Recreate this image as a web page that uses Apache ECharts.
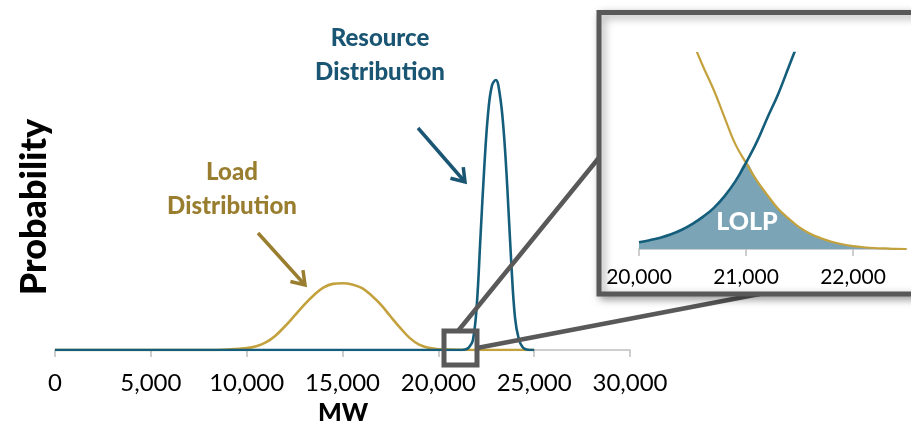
<!DOCTYPE html>
<html><head><meta charset="utf-8">
<script src="https://cdn.jsdelivr.net/npm/echarts@6/dist/echarts.min.js"></script>
<style>html,body{margin:0;padding:0;background:#fff}#c{width:911px;height:423px}</style>
</head><body><div id="c"></div>
<script>
// ---- main chart data ----
const xTicks = [0, 5000, 10000, 15000, 20000, 25000, 30000];
const loadMW  = [0, 8000, 9000, 10000, 10500, 11000, 11500, 12000, 12500, 13000, 13500, 14000, 14500, 15000, 15500, 16000, 16500, 17000, 17500, 18000, 18500, 19000, 19500, 20000, 21000, 22000, 25000];
const loadVal = [0, 0, 0.002, 0.007, 0.014, 0.028, 0.053, 0.088, 0.127, 0.167, 0.203, 0.231, 0.245, 0.247, 0.243, 0.23, 0.203, 0.168, 0.125, 0.083, 0.045, 0.02, 0.008, 0.003, 0.001, 0, 0];
const resourceMW  = [0, 21000, 21400, 21600, 21800, 22000, 22200, 22400, 22600, 22800, 23000, 23200, 23400, 23600, 23800, 24000, 24200, 24400, 24600, 25000];
const resourceVal = [0, 0, 0.002, 0.01, 0.035, 0.16, 0.42, 0.68, 0.88, 0.98, 1.0, 0.95, 0.82, 0.60, 0.33, 0.12, 0.04, 0.01, 0.002, 0];
// ---- inset (zoom 20,000 - 22,500 MW) data ----
const insetTicks = [20000, 21000, 22000];
const insetLoadMW  = [20400, 20500, 20600, 20700, 20800, 20900, 21000, 21100, 21200, 21300, 21400, 21500, 21600, 21700, 21800, 21900, 22000, 22100, 22200, 22300, 22400, 22500];
const insetLoad    = [1.2, 1.06, 0.93, 0.81, 0.67, 0.535, 0.44, 0.35, 0.275, 0.205, 0.155, 0.11, 0.078, 0.055, 0.037, 0.024, 0.015, 0.009, 0.005, 0.003, 0.001, 0];
const insetResourceMW = [20000, 20100, 20200, 20300, 20400, 20500, 20600, 20700, 20800, 20900, 21000, 21100, 21200, 21300, 21400, 21500];
const insetResource   = [0.034, 0.045, 0.058, 0.075, 0.098, 0.128, 0.165, 0.21, 0.27, 0.345, 0.44, 0.545, 0.67, 0.79, 0.93, 1.07];

const GOLD = '#C3A23E', TEAL = '#145E7C', GOLD_TXT = '#9A7E30', TEAL_TXT = '#1A5673', FRAME = '#595959';
const pairs = (xs, ys) => xs.map((x, i) => [x, ys[i]]);

// LOLP = overlap area under both inset curves
const lMap = new Map(insetLoadMW.map((x, i) => [x, insetLoad[i]]));
const rMap = new Map(insetResourceMW.map((x, i) => [x, insetResource[i]]));
const allX = Array.from(new Set([...insetResourceMW, ...insetLoadMW])).sort((a, b) => a - b);
const lolp = allX.map(x => [x, Math.min(lMap.has(x) ? lMap.get(x) : Infinity, rMap.has(x) ? rMap.get(x) : Infinity)]);

function arrow(x1, y1, x2, y2, color, z) {
  const dx = x2 - x1, dy = y2 - y1, L = Math.hypot(dx, dy), ux = dx / L, uy = dy / L;
  const a = 0.6, h = 15;
  const rot = (s) => [x2 - h * (ux * Math.cos(s * a) - uy * Math.sin(s * a)), y2 - h * (ux * Math.sin(s * a) + uy * Math.cos(s * a))];
  return [
    { type: 'line', z, shape: { x1, y1, x2, y2 }, style: { stroke: color, lineWidth: 3.5 } },
    { type: 'polyline', z, shape: { points: [rot(1), [x2, y2], rot(-1)] }, style: { stroke: color, lineWidth: 3.5, fill: null, lineJoin: 'miter' } }
  ];
}
const fmt = v => v.toLocaleString('en-US');
const T = (text, x, y, font, fill, extra) => Object.assign({ type: 'text', z: 20, x, y,
  style: { text, font, fill, textAlign: 'center', textVerticalAlign: 'middle' } }, extra || {});

const chart = echarts.init(document.getElementById('c'));
chart.setOption({
  animation: false,
  grid: [
    { left: 55, right: 281, top: 80, bottom: 73, outerBoundsMode: 'none', containLabel: false },
    { left: 639, right: 4.5, top: 53, bottom: 174, outerBoundsMode: 'none', containLabel: false }
  ],
  xAxis: [
    { type: 'value', gridIndex: 0, min: 0, max: 30000, interval: 5000,
      axisLine: { lineStyle: { color: '#BFBFBF', width: 1.5 } },
      axisTick: { length: 7, lineStyle: { color: '#BFBFBF', width: 1.5 } },
      splitLine: { show: false },
      axisLabel: { formatter: fmt, color: '#000', fontFamily: 'Lato', fontSize: 24, margin: 21 } },
    { type: 'value', gridIndex: 1, min: 20000, max: 22500, z: 10,
      axisLine: { lineStyle: { color: '#BFBFBF', width: 1.5 } },
      axisTick: { length: 7, customValues: insetTicks, lineStyle: { color: '#BFBFBF', width: 1.5 } },
      splitLine: { show: false },
      axisLabel: { customValues: insetTicks, formatter: fmt, color: '#000', fontFamily: 'Lato', fontSize: 21, margin: 18 } }
  ],
  yAxis: [
    { type: 'value', gridIndex: 0, min: 0, max: 1, show: false },
    { type: 'value', gridIndex: 1, min: 0, max: 1, show: false }
  ],
  series: [
    { type: 'line', xAxisIndex: 0, yAxisIndex: 0, z: 2, data: pairs(loadMW, loadVal), smooth: 0.4, symbol: 'none',
      lineStyle: { color: GOLD, width: 2.6 } },
    { type: 'line', xAxisIndex: 0, yAxisIndex: 0, z: 3, data: pairs(resourceMW, resourceVal), smooth: 0.4, symbol: 'none',
      lineStyle: { color: TEAL, width: 2.6 } },
    { type: 'line', xAxisIndex: 1, yAxisIndex: 1, z: 11, data: lolp, smooth: 0.4, symbol: 'none',
      lineStyle: { width: 0 }, areaStyle: { color: '#7BA4B6', opacity: 1 } },
    { type: 'line', xAxisIndex: 1, yAxisIndex: 1, z: 12, data: pairs(insetLoadMW, insetLoad), smooth: 0.4, symbol: 'none',
      lineStyle: { color: GOLD, width: 2.2 } },
    { type: 'line', xAxisIndex: 1, yAxisIndex: 1, z: 13, data: pairs(insetResourceMW, insetResource), smooth: 0.4, symbol: 'none',
      lineStyle: { color: TEAL, width: 2.6 } }
  ],
  graphic: { elements: [
    T('Probability', 34, 207, '900 36px Lato', '#000', { rotation: Math.PI / 2 }),
    T('MW', 343, 413, '900 25px Lato', '#000'),
    T('Resource', 380, 38, '900 24px Lato', TEAL_TXT),
    T('Distribution', 380, 72, '900 24px Lato', TEAL_TXT),
    T('Load', 232, 172, '900 24px Lato', GOLD_TXT),
    T('Distribution', 232, 206, '900 24px Lato', GOLD_TXT),
    ...arrow(418, 128, 465, 182, TEAL_TXT, 20),
    ...arrow(258, 233, 305, 285, GOLD_TXT, 20),
    { type: 'rect', z: 5, shape: { x: 444, y: 331, width: 33, height: 34 }, style: { stroke: FRAME, lineWidth: 5, fill: null } },
    { type: 'line', z: 5, shape: { x1: 458, y1: 331, x2: 602, y2: 154 }, style: { stroke: FRAME, lineWidth: 4.5 } },
    { type: 'line', z: 5, shape: { x1: 477, y1: 348, x2: 770, y2: 292 }, style: { stroke: FRAME, lineWidth: 4.5 } },
    { type: 'rect', z: 6, shape: { x: 599, y: 12.5, width: 340, height: 281.5 },
      style: { stroke: FRAME, lineWidth: 5, fill: '#fff', shadowBlur: 8, shadowOffsetX: 3, shadowOffsetY: 3, shadowColor: 'rgba(0,0,0,0.35)' } },
    T('LOLP', 747, 222, '900 25px Lato', '#fff', { z: 30 })
  ] }
});
</script></body></html>
